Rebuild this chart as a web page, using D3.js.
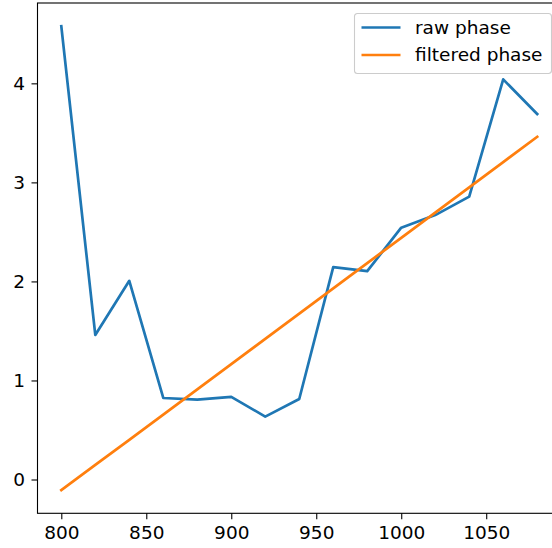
<!DOCTYPE html>
<html>
  <head>
    <meta charset="utf-8">
    <title>Phase</title>
    <script src="https://d3js.org/d3.v7.min.js"></script>
    <style>
      body{ margin: 0; background: #fff; }
      svg text{ font-family: "DejaVu Sans", sans-serif; fill: #000; }
    </style>
  </head>
  <body>
    <div id="container"></div>
    <script>

      // DATA
      const freqs = [800, 820, 840, 860, 880, 900, 920, 940, 960, 980, 1000, 1020, 1040, 1060, 1080];
      const rawPhase = [4.577, 1.46, 2.006, 0.823, 0.806, 0.835, 0.635, 0.813, 2.144, 2.104, 2.543, 2.67, 2.856, 4.04, 3.69];
      const filteredPhase = [-0.107, 0.148, 0.40, 0.655, 0.91, 1.165, 1.42, 1.675, 1.93, 2.185, 2.44, 2.695, 2.95, 3.205, 3.46];
      const xTicks = [800, 850, 900, 950, 1000, 1050];
      const yTicks = [0, 1, 2, 3, 4];
      const seriesNames = ["raw phase", "filtered phase"];
      const colors = ["#1f77b4", "#ff7f0e"];

      // DIMENSIONS
      const width = 552, height = 548;
      const plot = { left: 37.5, right: 561, top: 3, bottom: 513.3 };
      const fontSize = 18.5;

      const svg = d3.select("#container")
        .append("svg")
        .attr("width", width)
        .attr("height", height);

      // SCALES (5% margins like matplotlib)
      const xExt = d3.extent(freqs);
      const xPad = (xExt[1] - xExt[0]) * 0.05;
      const x = d3.scaleLinear()
        .domain([xExt[0] - xPad, xExt[1] + xPad])
        .range([plot.left, plot.right]);

      const yExt = d3.extent(rawPhase.concat(filteredPhase));
      const yPad = (yExt[1] - yExt[0]) * 0.05;
      const y = d3.scaleLinear()
        .domain([yExt[0] - yPad, yExt[1] + yPad])
        .range([plot.bottom, plot.top]);

      svg.append("clipPath").attr("id", "clip")
        .append("rect")
        .attr("x", plot.left).attr("y", plot.top)
        .attr("width", plot.right - plot.left)
        .attr("height", plot.bottom - plot.top);

      // LINES
      const series = [rawPhase, filteredPhase];
      const line = d3.line()
        .x((d, i) => x(freqs[i]))
        .y(d => y(d));

      svg.append("g")
        .attr("clip-path", "url(#clip)")
        .selectAll("path")
        .data(series)
        .join("path")
        .attr("d", d => line(d))
        .attr("fill", "none")
        .attr("stroke", (d, i) => colors[i])
        .attr("stroke-width", 2.7)
        .attr("stroke-linejoin", "round")
        .attr("stroke-linecap", "square");

      // AXES
      const xAxis = svg.append("g")
        .attr("transform", "translate(0," + plot.bottom + ")")
        .call(d3.axisBottom(x).tickValues(xTicks).tickFormat(d3.format("d"))
          .tickSize(6).tickPadding(6.5).tickSizeOuter(0));
      const yAxis = svg.append("g")
        .attr("transform", "translate(" + plot.left + ",0)")
        .call(d3.axisLeft(y).tickValues(yTicks).tickFormat(d3.format("d"))
          .tickSize(6).tickPadding(6.5).tickSizeOuter(0));

      [xAxis, yAxis].forEach(a => {
        a.selectAll("text").attr("font-size", fontSize).attr("font-family", null);
        a.selectAll("line").attr("stroke", "#000").attr("stroke-width", 1.1);
      });
      xAxis.select(".domain").remove();
      yAxis.select(".domain").remove();

      // SPINES
      svg.append("rect")
        .attr("x", plot.left).attr("y", plot.top)
        .attr("width", plot.right - plot.left)
        .attr("height", plot.bottom - plot.top)
        .attr("fill", "none")
        .attr("stroke", "#000")
        .attr("stroke-width", 1.1);

      // LEGEND
      const legend = svg.append("g").attr("transform", "translate(354.5,13.5)");
      legend.append("rect")
        .attr("width", 197).attr("height", 60)
        .attr("rx", 3).attr("ry", 3)
        .attr("fill", "#fff").attr("fill-opacity", 0.8)
        .attr("stroke", "#ccc").attr("stroke-width", 1.1);

      const items = legend.selectAll(".item")
        .data(seriesNames)
        .join("g")
        .attr("class", "item")
        .attr("transform", (d, i) => "translate(0," + (14 + i * 27.5) + ")");
      items.append("line")
        .attr("x1", 7).attr("x2", 46)
        .attr("stroke", (d, i) => colors[i])
        .attr("stroke-width", 2.7);
      items.append("text")
        .attr("x", 60.5)
        .attr("dy", "0.35em")
        .attr("font-size", fontSize)
        .text(d => d);

    </script>
  </body>
</html>
